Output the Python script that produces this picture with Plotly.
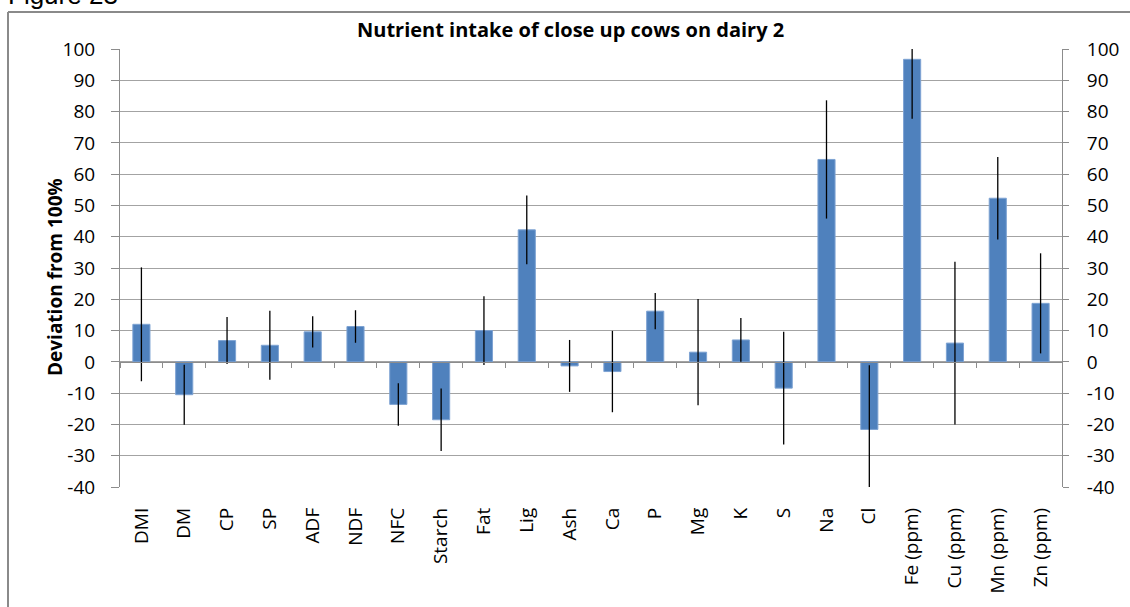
import plotly.graph_objects as go

# Nutrient intake deviations (% from 100%) with standard deviation error bars
nutrients = ["DMI", "DM", "CP", "SP", "ADF", "NDF", "NFC", "Starch", "Fat", "Lig",
             "Ash", "Ca", "P", "Mg", "K", "S", "Na", "Cl",
             "Fe (ppm)", "Cu (ppm)", "Mn (ppm)", "Zn (ppm)"]
deviation = [12.0, -10.5, 6.8, 5.3, 9.6, 11.3, -13.6, -18.5, 10.0, 42.2,
             -1.3, -3.1, 16.2, 3.1, 7.0, -8.4, 64.7, -21.6,
             96.7, 6.0, 52.3, 18.7]
std_dev = [18.2, 9.6, 7.5, 11.0, 5.0, 5.2, 6.8, 10.0, 11.0, 11.0,
           8.3, 13.0, 5.8, 17.0, 7.0, 18.0, 18.9, 20.5,
           19.0, 26.0, 13.2, 16.0]
y_ticks = list(range(-40, 101, 10))
y_tick_text = [str(v) for v in y_ticks]  # plain hyphen for negatives

Y_MIN, Y_MAX = -40, 100
W, H = 1130, 607
M_L, M_R, M_T, M_B = 120, 68, 49, 120
PW, PH = W - M_L - M_R, H - M_T - M_B

BAR_BLUE = "#4F81BD"
GRID = "#a3a3a3"
AXIS = "#8c8c8c"
FONT = "Open Sans"


def px_x(px):
    return (px - M_L) / PW


def px_y(py):
    return (H - M_B - py) / PH


fig = go.Figure()

fig.add_trace(go.Bar(
    x=nutrients, y=deviation,
    marker=dict(color=BAR_BLUE, line=dict(color="#7ea3d3", width=1)),
    error_y=dict(type="data", array=std_dev, visible=True,
                 color="black", thickness=1.3, width=0),
    cliponaxis=True,
))

# companion trace for the zero-line axis and the right-hand value axis
fig.add_trace(go.Scatter(
    x=nutrients, y=deviation, xaxis="x2", yaxis="y2",
    mode="none", hoverinfo="skip", showlegend=False,
))

cat_range = [-0.5, len(nutrients) - 0.5]
zero_pos = (0 - Y_MIN) / (Y_MAX - Y_MIN)

fig.update_layout(
    width=W, height=H,
    margin=dict(l=M_L, r=M_R, t=M_T, b=M_B, pad=0),
    paper_bgcolor="white", plot_bgcolor="white",
    showlegend=False,
    bargap=0.6,
    font=dict(family=FONT, color="black"),
    xaxis=dict(
        type="category", categoryarray=nutrients, range=cat_range,
        showgrid=False, showline=False, zeroline=False, ticks="",
        tickangle=-90, tickfont=dict(size=19, family=FONT),
        ticklabelstandoff=16,
    ),
    xaxis2=dict(
        type="category", categoryarray=nutrients, range=cat_range,
        overlaying="x", anchor="free", position=zero_pos,
        showgrid=False, zeroline=False,
        showline=True, linecolor=AXIS, linewidth=1,
        ticks="outside", tickson="boundaries", ticklen=5,
        tickcolor=AXIS, tickwidth=1, showticklabels=False,
    ),
    yaxis=dict(
        range=[Y_MIN, Y_MAX], tickvals=y_ticks, ticktext=y_tick_text,
        showgrid=True, gridcolor=GRID, gridwidth=1,
        zeroline=False,
        showline=True, linecolor=AXIS, linewidth=1,
        ticks="outside", ticklen=8, tickcolor=AXIS, tickwidth=1,
        tickfont=dict(size=19, family=FONT),
        ticklabelstandoff=12,
    ),
    yaxis2=dict(
        range=[Y_MIN, Y_MAX], tickvals=y_ticks, ticktext=y_tick_text,
        overlaying="y", side="right", anchor="x2",
        showgrid=False, zeroline=False,
        showline=True, linecolor=AXIS, linewidth=1,
        ticks="outside", ticklen=6, tickcolor=AXIS, tickwidth=1,
        tickfont=dict(size=19, family=FONT),
        ticklabelstandoff=14,
    ),
)

# chart title, axis title and the figure caption
fig.add_annotation(
    text="<b>Nutrient intake of close up cows on dairy 2</b>",
    xref="paper", yref="paper", x=px_x(570), y=px_y(30),
    xanchor="center", yanchor="middle", showarrow=False,
    font=dict(size=20, family=FONT, color="black"),
)
fig.add_annotation(
    text="<b>Deviation from 100%</b>",
    xref="paper", yref="paper", x=px_x(55), y=px_y(277),
    xanchor="center", yanchor="middle", textangle=-90, showarrow=False,
    font=dict(size=19, family=FONT, color="black"),
)
fig.add_annotation(
    text="Figure 23",
    xref="paper", yref="paper", x=px_x(6), y=px_y(-5),
    xanchor="left", yanchor="middle", showarrow=False,
    font=dict(size=26, family="Liberation Sans", color="black"),
)

# outer chart frame (left and top edges visible)
fig.add_shape(type="line", xref="paper", yref="paper",
              x0=px_x(8), y0=px_y(12), x1=px_x(8), y1=px_y(H + 20),
              line=dict(color="#8a8a8a", width=2))
fig.add_shape(type="line", xref="paper", yref="paper",
              x0=px_x(8), y0=px_y(12), x1=px_x(W + 20), y1=px_y(12),
              line=dict(color="#8a8a8a", width=2))

fig.write_html("out.html")
